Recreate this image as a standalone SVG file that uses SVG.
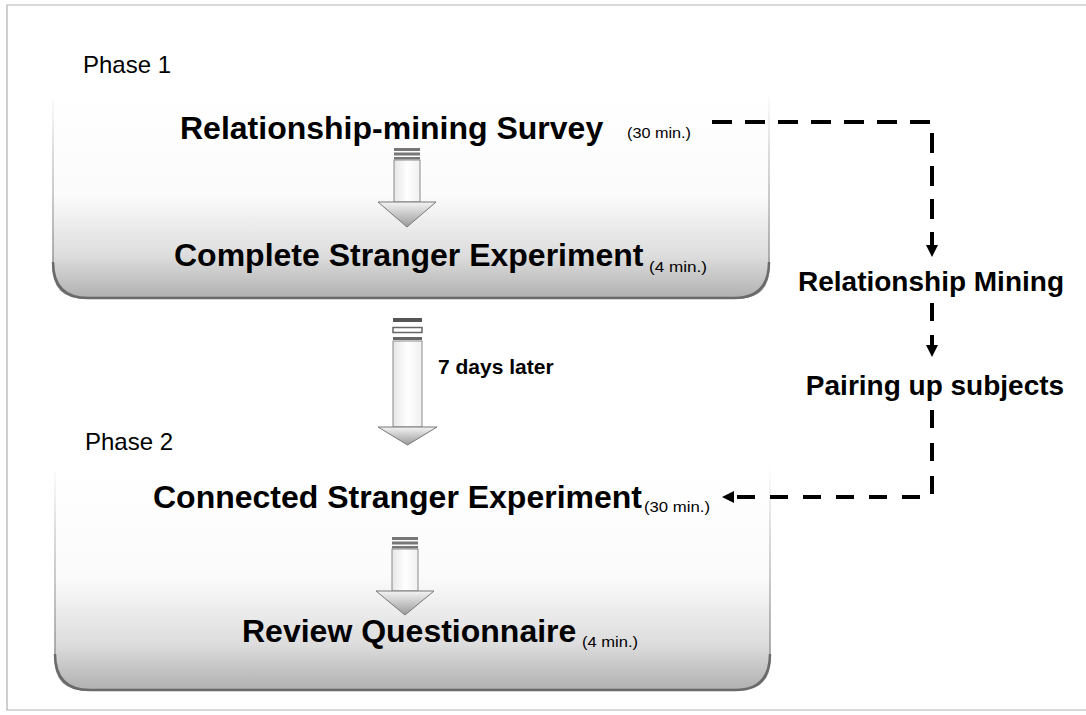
<svg xmlns="http://www.w3.org/2000/svg" width="1086" height="715" viewBox="0 0 1086 715">
<style>
.title{font-family:"Liberation Sans",Arial,sans-serif;font-weight:bold;font-size:32px;fill:#000}
.small{font-family:"Liberation Sans",Arial,sans-serif;font-size:15px;fill:#000}
.phase{font-family:"Liberation Sans",Arial,sans-serif;font-size:24px;fill:#000}
.side{font-family:"Liberation Sans",Arial,sans-serif;font-weight:bold;font-size:28px;fill:#000}
.note{font-family:"Liberation Sans",Arial,sans-serif;font-weight:bold;font-size:21px;fill:#000}
.dash{fill:none;stroke:#000;stroke-width:4;stroke-dasharray:20 13}
.shaft{fill:url(#shaftG);stroke:#8a8a8a;stroke-width:1}
.head{fill:url(#headG);stroke:#777;stroke-width:1}
.bar{fill:#777}
</style>
<defs>
<linearGradient id="boxG" x1="0" y1="0" x2="0" y2="1">
<stop offset="0" stop-color="#ffffff"/>
<stop offset="0.5" stop-color="#fbfbfb"/>
<stop offset="0.8" stop-color="#dcdcdc"/>
<stop offset="1" stop-color="#b0b0b0"/>
</linearGradient>
<linearGradient id="edgeG" x1="0" y1="0" x2="0" y2="1">
<stop offset="0" stop-color="#ffffff"/>
<stop offset="0.3" stop-color="#d0d0d0"/>
<stop offset="1" stop-color="#808080"/>
</linearGradient>
<linearGradient id="shaftG" x1="0" y1="0" x2="1" y2="0">
<stop offset="0" stop-color="#e6e6e6"/>
<stop offset="0.5" stop-color="#ffffff"/>
<stop offset="1" stop-color="#f0f0f0"/>
</linearGradient>
<linearGradient id="headG" x1="0" y1="0" x2="0" y2="1">
<stop offset="0" stop-color="#f4f4f4"/>
<stop offset="1" stop-color="#9a9a9a"/>
</linearGradient>
<marker id="ah" viewBox="0 0 10 10" refX="10" refY="5" markerWidth="12" markerHeight="12" markerUnits="userSpaceOnUse" orient="auto">
<path d="M0,0 L10,5 L0,10 z" fill="#000"/>
</marker>
</defs>
<rect width="1086" height="715" fill="#fff"/>
<path d="M1090,5 H7 V710 H1090" fill="none" stroke="#b0b0b0" stroke-width="1.2"/>

<g id="phase1">
<text class="phase" x="83" y="73">Phase 1</text>
<path d="M53,100 V266 Q53,298 85,298 H737 Q769,298 769,266 V92 Z" fill="url(#boxG)" stroke="none"/>
<path d="M53,100 V266 Q53,298 85,298 H737 Q769,298 769,266 V92" fill="none" stroke="url(#edgeG)" stroke-width="1.5"/>
<path d="M53,262 Q53,298 88,298 H734 Q769,298 769,262" fill="none" stroke="#6a6a6a" stroke-width="2.5"/>
</g>

<g id="survey">
<text class="title" x="180" y="139">Relationship-mining Survey</text>
<text class="small" x="627" y="138" textLength="64" lengthAdjust="spacingAndGlyphs">(30 min.)</text>
</g>

<g id="arrow1">
<rect class="bar" x="394" y="148" width="26" height="3"/>
<rect class="bar" x="394" y="152.5" width="26" height="3"/>
<rect class="bar" x="394" y="157" width="26" height="2.5"/>
<rect class="shaft" x="394" y="160" width="26" height="42"/>
<path class="head" d="M378,202 H436 L407,227 Z"/>
</g>

<g id="complete">
<text class="title" x="174" y="266">Complete Stranger Experiment</text>
<text class="small" x="649" y="272" textLength="58" lengthAdjust="spacingAndGlyphs">(4 min.)</text>
</g>

<g id="arrow2">
<rect x="393" y="318" width="29" height="4" fill="#555"/>
<rect x="393" y="327.5" width="29" height="5" fill="#fff" stroke="#666" stroke-width="1.5"/>
<rect x="393" y="337" width="29" height="3" fill="#666"/>
<rect class="shaft" x="393" y="341" width="29" height="86"/>
<path class="head" d="M378,427 H437 L407.5,445 Z" fill="#fff"/>
<text class="note" x="438" y="374">7 days later</text>
</g>

<g id="phase2">
<text class="phase" x="85" y="450">Phase 2</text>
<path d="M55,472 V658 Q55,690 87,690 H738 Q770,690 770,658 V465 Z" fill="url(#boxG)" stroke="none"/>
<path d="M55,472 V658 Q55,690 87,690 H738 Q770,690 770,658 V465" fill="none" stroke="url(#edgeG)" stroke-width="1.5"/>
<path d="M55,654 Q55,690 90,690 H735 Q770,690 770,654" fill="none" stroke="#6a6a6a" stroke-width="2.5"/>
</g>

<g id="connected">
<text class="title" x="153" y="508">Connected Stranger Experiment</text>
<text class="small" x="644" y="512" textLength="66" lengthAdjust="spacingAndGlyphs">(30 min.)</text>
</g>

<g id="arrow3">
<rect class="bar" x="392" y="537" width="26" height="3"/>
<rect class="bar" x="392" y="541.5" width="26" height="3"/>
<rect class="bar" x="392" y="546" width="26" height="2.5"/>
<rect class="shaft" x="392" y="549" width="26" height="42"/>
<path class="head" d="M376,591 H434 L405,615 Z"/>
</g>

<g id="review">
<text class="title" x="242" y="642">Review Questionnaire</text>
<text class="small" x="582" y="647" textLength="56" lengthAdjust="spacingAndGlyphs">(4 min.)</text>
</g>

<g id="mining">
<text class="side" x="931" y="291" text-anchor="middle">Relationship Mining</text>
</g>
<g id="pairing">
<text class="side" x="935" y="395" text-anchor="middle">Pairing up subjects</text>
</g>

<g id="connectors">
<path class="dash" d="M712,122 H932 V257" marker-end="url(#ah)"/>
<path class="dash" d="M932,303 V357" marker-end="url(#ah)" style="stroke-dasharray:18 14"/>
<path class="dash" d="M932,410 V497 H722" marker-end="url(#ah)" style="stroke-dasharray:18 15"/>
</g>
</svg>
